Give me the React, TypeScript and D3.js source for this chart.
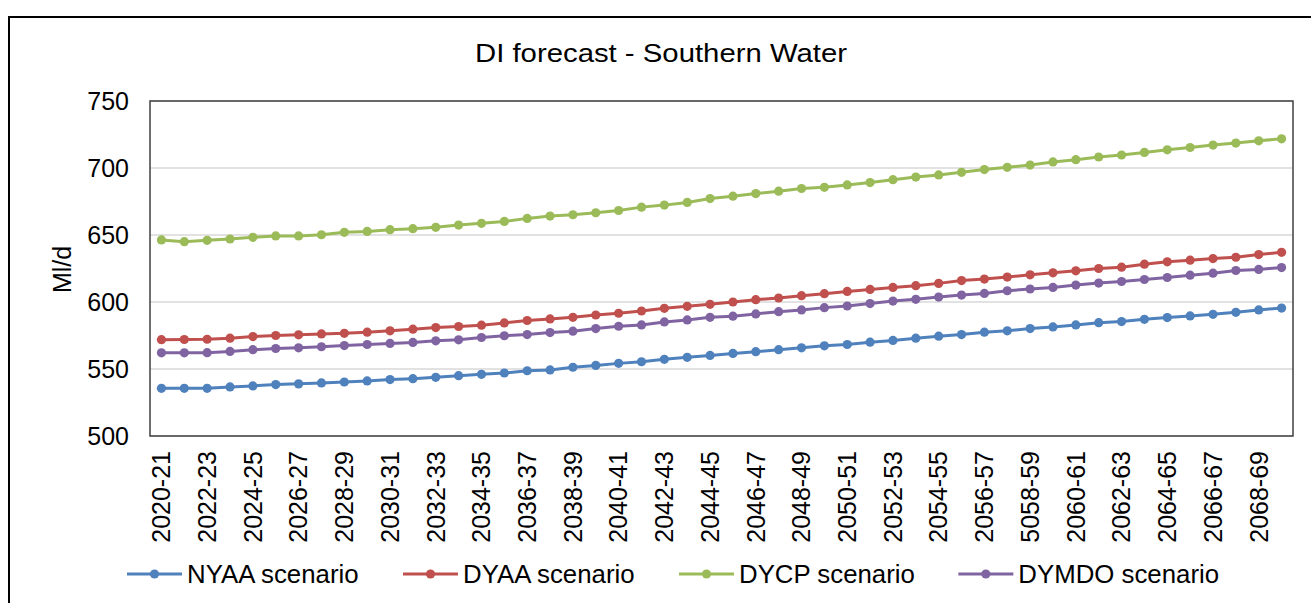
import React from "react";
import * as d3 from "d3";

const categories: string[] = [
  "2020-21","2021-22","2022-23","2023-24","2024-25","2025-26","2026-27","2027-28","2028-29","2029-30",
  "2030-31","2031-32","2032-33","2033-34","2034-35","2035-36","2036-37","2037-38","2038-39","2039-40",
  "2040-41","2041-42","2042-43","2043-44","2044-45","2045-46","2046-47","2047-48","2048-49","2049-50",
  "2050-51","2051-52","2052-53","2053-54","2054-55","2055-56","2056-57","2057-58","5058-59","2059-60",
  "2060-61","2061-62","2062-63","2063-64","2064-65","2065-66","2066-67","2067-68","2068-69","2069-70",
];

const nyaa: number[] = [
  535.6, 535.6, 535.6, 536.6, 537.4, 538.4, 538.9, 539.6, 540.3,
  541.1, 542.1, 542.8, 543.8, 545.0, 546.0, 547.0, 548.7,
  549.3, 551.3, 552.7, 554.2, 555.4, 557.2, 558.7, 560.1,
  561.6, 562.9, 564.4, 565.8, 567.3, 568.3, 570.0, 571.3, 573.0,
  574.5, 575.7, 577.5, 578.5, 580.2, 581.4, 582.9, 584.6,
  585.4, 587.1, 588.4, 589.6, 590.8, 592.3, 594.1, 595.5,
];
const dyaa: number[] = [
  571.9, 572.0, 572.2, 573.0, 574.2, 575.0, 575.5, 576.2, 576.6,
  577.5, 578.5, 579.7, 580.9, 581.7, 582.7, 584.4, 586.2,
  587.4, 588.6, 590.3, 591.6, 593.3, 595.3, 596.8, 598.3,
  600.0, 601.7, 603.0, 604.7, 606.2, 607.9, 609.4, 610.9, 612.2,
  613.9, 616.0, 617.1, 618.6, 620.3, 621.8, 623.3, 625.0,
  626.0, 628.2, 630.0, 631.2, 632.4, 633.4, 635.4, 637.1,
];
const dycp: number[] = [
  646.3, 645.0, 646.0, 647.0, 648.3, 649.3, 649.3, 650.2, 652.0,
  652.7, 654.0, 654.7, 655.7, 657.4, 658.7, 660.1, 662.4,
  664.1, 665.1, 666.6, 668.3, 670.8, 672.3, 674.3, 677.2,
  679.0, 680.9, 682.7, 684.7, 685.6, 687.4, 689.1, 691.3, 693.2,
  694.8, 696.8, 698.8, 700.5, 702.2, 704.5, 706.2, 708.2,
  709.7, 711.6, 713.6, 715.3, 717.1, 718.6, 720.3, 721.8,
];
const dymdo: number[] = [
  562.1, 562.1, 562.2, 563.1, 564.4, 565.3, 565.8, 566.6, 567.5,
  568.3, 569.1, 569.8, 571.0, 571.8, 573.5, 574.8, 575.7,
  577.2, 578.2, 580.2, 581.9, 582.9, 585.1, 586.6, 588.6,
  589.4, 591.1, 592.8, 594.1, 595.8, 597.0, 598.8, 600.7, 602.0,
  603.7, 605.2, 606.4, 608.4, 609.7, 610.9, 612.6, 614.1,
  615.3, 616.8, 618.3, 620.0, 621.5, 623.5, 624.3, 625.7,
];

const seriesNames: string[] = ["NYAA scenario", "DYAA scenario", "DYCP scenario", "DYMDO scenario"];
const seriesColors: string[] = ["#4F81BD", "#C0504D", "#9BBB59", "#8064A2"];
const seriesValues: number[][] = [nyaa, dyaa, dycp, dymdo];
const yTicks: number[] = [500, 550, 600, 650, 700, 750];

const title = "DI forecast - Southern Water";
const yAxisTitle = "Ml/d";

const W = 1311;
const H = 603;
const FONT = "'Liberation Sans', Arial, sans-serif";
const FS = 25;
const LEG_FS = 25.8;

function measure(text: string, size: number): number {
  const c = document.createElement("canvas");
  const ctx = c.getContext("2d");
  if (!ctx) return text.length * size * 0.5;
  ctx.font = `${size}px 'Liberation Sans', Arial, sans-serif`;
  return ctx.measureText(text).width;
}

export default function App() {
  const plot = { left: 150, right: 1293, top: 101, bottom: 436 };
  const x = d3.scaleBand<string>().domain(categories).range([plot.left, plot.right]).padding(0);
  const y = d3.scaleLinear().domain([500, 750]).range([plot.bottom, plot.top]);
  const cx = (c: string) => (x(c) ?? 0) + x.bandwidth() / 2;

  const line = d3
    .line<number>()
    .x((_, i) => cx(categories[i]))
    .y((v) => y(v));

  // legend layout
  const legendY = 574;
  const lineLen = 55;
  const textGap = 5;
  const itemGap = 43;
  let lx = 127;
  const legendItems = seriesNames.map((name, i) => {
    const item = { name, color: seriesColors[i], x: lx };
    lx += lineLen + textGap + measure(name, LEG_FS) + itemGap;
    return item;
  });

  return (
    <svg
      width={W}
      height={H}
      style={{ position: "absolute", left: 0, top: 0, display: "block", background: "#fff" }}
      fontFamily={FONT}
    >
      <rect x={0} y={0} width={W} height={H} fill="#fff" />
      {/* chart frame */}
      <rect x={9} y={17} width={W + 20} height={H + 20} fill="none" stroke="#000" strokeWidth={2} />

      <text
        x={661}
        y={62}
        textAnchor="middle"
        fontSize={26}
        fill="#000"
        textLength={372}
        lengthAdjust="spacingAndGlyphs"
      >
        {title}
      </text>

      {/* gridlines */}
      {yTicks.map((t) => (
        <line
          key={"g" + t}
          x1={plot.left}
          x2={plot.right}
          y1={y(t)}
          y2={y(t)}
          stroke="#D9D9D9"
          strokeWidth={1.5}
        />
      ))}
      {/* plot border */}
      <rect
        x={plot.left}
        y={plot.top}
        width={plot.right - plot.left}
        height={plot.bottom - plot.top}
        fill="none"
        stroke="#404040"
        strokeWidth={1.5}
      />

      {/* y tick labels */}
      {yTicks.map((t) => (
        <text key={"t" + t} x={129} y={y(t)} dy="0.36em" textAnchor="end" fontSize={FS} fill="#000">
          {t}
        </text>
      ))}
      <text
        transform={`translate(71, ${(plot.top + plot.bottom) / 2 + 1}) rotate(-90)`}
        textAnchor="middle"
        fontSize={FS}
        fill="#000"
      >
        {yAxisTitle}
      </text>

      {/* x tick labels */}
      {categories.map((c, i) =>
        i % 2 === 0 ? (
          <text
            key={"x" + c}
            transform={`translate(${cx(c) + 8.8}, 451) rotate(-90)`}
            textAnchor="end"
            fontSize={FS}
            fill="#000"
          >
            {c}
          </text>
        ) : null
      )}

      {/* series */}
      {seriesValues.map((vals, si) => (
        <g key={"s" + si}>
          <path d={line(vals) ?? ""} fill="none" stroke={seriesColors[si]} strokeWidth={3} />
          {vals.map((v, i) => (
            <circle key={i} cx={cx(categories[i])} cy={y(v)} r={4.6} fill={seriesColors[si]} />
          ))}
        </g>
      ))}

      {/* legend */}
      {legendItems.map((it) => (
        <g key={it.name}>
          <line
            x1={it.x}
            x2={it.x + lineLen}
            y1={legendY}
            y2={legendY}
            stroke={it.color}
            strokeWidth={3}
          />
          <circle cx={it.x + lineLen / 2} cy={legendY} r={4.6} fill={it.color} />
          <text x={it.x + lineLen + textGap} y={legendY} dy="0.36em" fontSize={LEG_FS} fill="#000">
            {it.name}
          </text>
        </g>
      ))}
    </svg>
  );
}
